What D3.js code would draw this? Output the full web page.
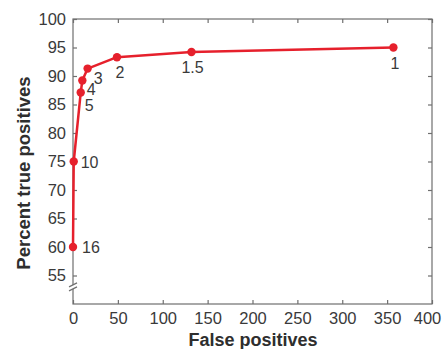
<!DOCTYPE html>
<html>
<head>
<meta charset="utf-8">
<script src="https://cdn.jsdelivr.net/npm/d3@7"></script>
<style>
  body { margin: 0; background: #fff; }
  svg text { font-family: "Liberation Sans", Arial, sans-serif; }
</style>
</head>
<body>
<div id="chart"></div>
<script>
// threshold labels and the points they produce
const thresholds = ["16", "10", "5", "4", "3", "2", "1.5", "1"];
const falsePositives = [0, 0.8, 8.6, 10.4, 16.3, 49, 132, 357];
const truePositives = [60, 75, 87.1, 89.2, 91.3, 93.3, 94.2, 95.0];
const xTicks = [0, 50, 100, 150, 200, 250, 300, 350, 400];
const yTicks = [55, 60, 65, 70, 75, 80, 85, 90, 95, 100];

// label offsets relative to each point (dx, dy to baseline)
const labelOffsets = [[9, 6], [7, 6], [4, 18], [4.5, 14], [6, 15], [-1.5, 21], [-10, 21], [-3, 21]];

const width = 445, height = 349;
const margin = { top: 19, right: 13, bottom: 45, left: 73 };

const svg = d3.select('#chart').append('svg')
    .attr('width', width)
    .attr('height', height);

const x = d3.scaleLinear().domain([0, 400]).range([margin.left, width - margin.right]);
const y = d3.scaleLinear().domain([50, 100]).range([height - margin.bottom, margin.top]);

const axisColor = '#6f6f6f';
const textColor = '#3a3a3a';

// box
svg.append('rect')
    .attr('x', x(0)).attr('y', y(100))
    .attr('width', x(400) - x(0)).attr('height', y(50) - y(100))
    .attr('fill', 'none')
    .attr('stroke', axisColor)
    .attr('stroke-width', 1.2);

function styleAxis(g, showText) {
    g.select('.domain').remove();
    g.selectAll('.tick line').attr('stroke', axisColor).attr('stroke-width', 1.2);
    g.selectAll('.tick text')
        .attr('fill', textColor)
        .style('font-size', '16.5px')
        .style('display', showText ? null : 'none');
}

// inward ticks on all four sides
svg.append('g')
    .attr('transform', `translate(0,${y(50)})`)
    .call(d3.axisBottom(x).tickValues(xTicks).tickSize(-4).tickPadding(8))
    .call(g => styleAxis(g, true))
    .call(g => g.selectAll('.tick text').filter(d => d === 400).attr('dx', -5));

svg.append('g')
    .attr('transform', `translate(0,${y(100)})`)
    .call(d3.axisTop(x).tickValues(xTicks).tickSize(-4))
    .call(g => styleAxis(g, false));

svg.append('g')
    .attr('transform', `translate(${x(0)},0)`)
    .call(d3.axisLeft(y).tickValues(yTicks).tickSize(-4).tickPadding(7))
    .call(g => styleAxis(g, true));

svg.append('g')
    .attr('transform', `translate(${x(400)},0)`)
    .call(d3.axisRight(y).tickValues(yTicks).tickSize(-4))
    .call(g => styleAxis(g, false));

// axis break mark
const by = y(53);
svg.append('rect')
    .attr('x', x(0) - 4).attr('y', by - 2)
    .attr('width', 8).attr('height', 4)
    .attr('fill', '#fff');
[-2, 2].forEach(off => {
    svg.append('line')
        .attr('x1', x(0) - 4).attr('y1', by + off + 2)
        .attr('x2', x(0) + 4).attr('y2', by + off - 2)
        .attr('stroke', axisColor)
        .attr('stroke-width', 1.2);
});

// axis titles
svg.append('text')
    .attr('x', 253)
    .attr('y', height - 3)
    .attr('text-anchor', 'middle')
    .attr('fill', '#2e2e2e')
    .style('font-size', '18px')
    .style('font-weight', 'bold')
    .text('False positives');

svg.append('text')
    .attr('transform', `translate(30,${173}) rotate(-90)`)
    .attr('text-anchor', 'middle')
    .attr('fill', '#2e2e2e')
    .style('font-size', '18.5px')
    .style('font-weight', 'bold')
    .text('Percent true positives');

// data
const points = thresholds.map((t, i) => ({ t, fp: falsePositives[i], tp: truePositives[i], off: labelOffsets[i] }));
const red = '#e6202c';

svg.append('path')
    .datum(points)
    .attr('fill', 'none')
    .attr('stroke', red)
    .attr('stroke-width', 2.5)
    .attr('stroke-linejoin', 'round')
    .attr('d', d3.line().x(d => x(d.fp)).y(d => y(d.tp)));

svg.selectAll('circle.pt')
    .data(points)
    .join('circle')
    .attr('class', 'pt')
    .attr('cx', d => x(d.fp))
    .attr('cy', d => y(d.tp))
    .attr('r', 4.2)
    .attr('fill', red);

svg.selectAll('text.lbl')
    .data(points)
    .join('text')
    .attr('class', 'lbl')
    .attr('x', d => x(d.fp) + d.off[0])
    .attr('y', d => y(d.tp) + d.off[1])
    .attr('fill', textColor)
    .style('font-size', '16px')
    .text(d => d.t);
</script>
</body>
</html>
